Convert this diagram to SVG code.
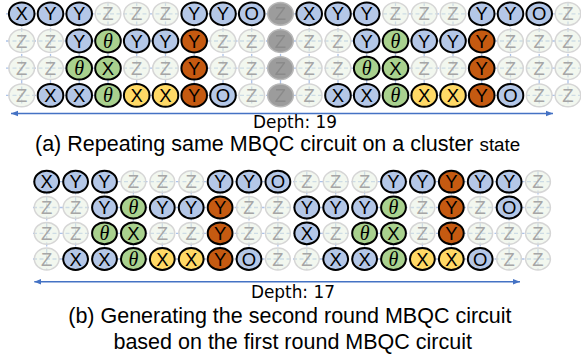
<svg xmlns="http://www.w3.org/2000/svg" width="581" height="362" viewBox="0 0 581 362">
<style>
  text{font-family:"Liberation Sans",Arial,sans-serif}
  .n text{font-size:18.5px;text-anchor:middle;fill:#000}
  .n .th{font-family:"Liberation Serif","Times New Roman",serif;font-style:italic;font-size:20px}
  .n ellipse{stroke:#000;stroke-width:2}
  .b ellipse{fill:#b4c7e7}
  .g ellipse{fill:#a9d18e}
  .y ellipse{fill:#ffd966}
  .r ellipse{fill:#c55a11}
  .z ellipse{fill:#e8f0e2;fill-opacity:.55;stroke:#d6d6d6;stroke-width:1.5}
  .n.z text{fill:#a6a6a6}
  .k{filter:url(#soft)}
  .k ellipse{fill:#9c9c9c;stroke:#b8b8b8;stroke-width:1.5}
  .n.k text{fill:#8a8a8a}
  .grid line{stroke:#adc3e8;stroke-width:1.3;stroke-dasharray:4 2.5}
  .depth line{stroke:#4472c4;stroke-width:1.6}
  .lbl{font-family:"DejaVu Sans",sans-serif;font-size:16.8px;text-anchor:middle;fill:#000}
  .cap{font-size:21.5px;fill:#000}
</style>
<defs>
  <filter id="soft" x="-30%" y="-30%" width="160%" height="160%"><feGaussianBlur stdDeviation="0.7"/></filter>
  <marker id="ah" viewBox="0 0 10 10" refX="10" refY="5" markerWidth="7" markerHeight="7" markerUnits="userSpaceOnUse" orient="auto-start-reverse"><path d="M0,1 L10,5 L0,9 z" fill="#4472c4"/></marker>
</defs>

<!-- dashed cluster-state edges -->
<g id="connectors" class="grid">
  <line x1="6" y1="13.8" x2="581" y2="13.8"/>
  <line x1="6" y1="41" x2="581" y2="41"/>
  <line x1="6" y1="68.2" x2="581" y2="68.2"/>
  <line x1="6" y1="95.4" x2="581" y2="95.4"/>
  <line x1="21.7" y1="2" x2="21.7" y2="107"/>
  <line x1="50.5" y1="2" x2="50.5" y2="107"/>
  <line x1="79.2" y1="2" x2="79.2" y2="107"/>
  <line x1="108" y1="2" x2="108" y2="107"/>
  <line x1="136.7" y1="2" x2="136.7" y2="107"/>
  <line x1="165.5" y1="2" x2="165.5" y2="107"/>
  <line x1="194.2" y1="2" x2="194.2" y2="107"/>
  <line x1="223" y1="2" x2="223" y2="107"/>
  <line x1="251.7" y1="2" x2="251.7" y2="107"/>
  <line x1="280.5" y1="2" x2="280.5" y2="107"/>
  <line x1="309.2" y1="2" x2="309.2" y2="107"/>
  <line x1="338" y1="2" x2="338" y2="107"/>
  <line x1="366.7" y1="2" x2="366.7" y2="107"/>
  <line x1="395.5" y1="2" x2="395.5" y2="107"/>
  <line x1="424.2" y1="2" x2="424.2" y2="107"/>
  <line x1="453" y1="2" x2="453" y2="107"/>
  <line x1="481.7" y1="2" x2="481.7" y2="107"/>
  <line x1="510.5" y1="2" x2="510.5" y2="107"/>
  <line x1="539.2" y1="2" x2="539.2" y2="107"/>
  <line x1="568" y1="2" x2="568" y2="107"/>

  <line x1="33" y1="181.7" x2="552" y2="181.7"/>
  <line x1="33" y1="207.5" x2="552" y2="207.5"/>
  <line x1="33" y1="233.3" x2="552" y2="233.3"/>
  <line x1="33" y1="259" x2="552" y2="259"/>
  <line x1="46.7" y1="171" x2="46.7" y2="270"/>
  <line x1="75.6" y1="171" x2="75.6" y2="270"/>
  <line x1="104.5" y1="171" x2="104.5" y2="270"/>
  <line x1="133.4" y1="171" x2="133.4" y2="270"/>
  <line x1="162.3" y1="171" x2="162.3" y2="270"/>
  <line x1="191.2" y1="171" x2="191.2" y2="270"/>
  <line x1="220.1" y1="171" x2="220.1" y2="270"/>
  <line x1="249" y1="171" x2="249" y2="270"/>
  <line x1="277.9" y1="171" x2="277.9" y2="270"/>
  <line x1="306.8" y1="171" x2="306.8" y2="270"/>
  <line x1="335.7" y1="171" x2="335.7" y2="270"/>
  <line x1="364.6" y1="171" x2="364.6" y2="270"/>
  <line x1="393.5" y1="171" x2="393.5" y2="270"/>
  <line x1="422.4" y1="171" x2="422.4" y2="270"/>
  <line x1="451.3" y1="171" x2="451.3" y2="270"/>
  <line x1="480.2" y1="171" x2="480.2" y2="270"/>
  <line x1="509.1" y1="171" x2="509.1" y2="270"/>
  <line x1="538" y1="171" x2="538" y2="270"/>
</g>

<!-- panel (a): repeated circuit, 20 columns -->
<g id="panel-a">
  <g id="a-1-01" class="n b" transform="translate(21.7,13.8)"><ellipse rx="12.8" ry="11.4"/><text y="6.6">X</text></g>
  <g id="a-1-02" class="n b" transform="translate(50.5,13.8)"><ellipse rx="12.8" ry="11.4"/><text y="6.6">Y</text></g>
  <g id="a-1-03" class="n b" transform="translate(79.2,13.8)"><ellipse rx="12.8" ry="11.4"/><text y="6.6">Y</text></g>
  <g id="a-1-04" class="n z" transform="translate(108,13.8)"><ellipse rx="12.8" ry="11.4"/><text y="6.6">Z</text></g>
  <g id="a-1-05" class="n z" transform="translate(136.7,13.8)"><ellipse rx="12.8" ry="11.4"/><text y="6.6">Z</text></g>
  <g id="a-1-06" class="n z" transform="translate(165.5,13.8)"><ellipse rx="12.8" ry="11.4"/><text y="6.6">Z</text></g>
  <g id="a-1-07" class="n b" transform="translate(194.2,13.8)"><ellipse rx="12.8" ry="11.4"/><text y="6.6">Y</text></g>
  <g id="a-1-08" class="n b" transform="translate(223,13.8)"><ellipse rx="12.8" ry="11.4"/><text y="6.6">Y</text></g>
  <g id="a-1-09" class="n b" transform="translate(251.7,13.8)"><ellipse rx="12.8" ry="11.4"/><text y="6.6">O</text></g>
  <g id="a-1-10" class="n k" transform="translate(280.5,13.8)"><ellipse rx="12.8" ry="11.4"/><text y="6.6">Z</text></g>
  <g id="a-1-11" class="n b" transform="translate(309.2,13.8)"><ellipse rx="12.8" ry="11.4"/><text y="6.6">X</text></g>
  <g id="a-1-12" class="n b" transform="translate(338,13.8)"><ellipse rx="12.8" ry="11.4"/><text y="6.6">Y</text></g>
  <g id="a-1-13" class="n b" transform="translate(366.7,13.8)"><ellipse rx="12.8" ry="11.4"/><text y="6.6">Y</text></g>
  <g id="a-1-14" class="n z" transform="translate(395.5,13.8)"><ellipse rx="12.8" ry="11.4"/><text y="6.6">Z</text></g>
  <g id="a-1-15" class="n z" transform="translate(424.2,13.8)"><ellipse rx="12.8" ry="11.4"/><text y="6.6">Z</text></g>
  <g id="a-1-16" class="n z" transform="translate(453,13.8)"><ellipse rx="12.8" ry="11.4"/><text y="6.6">Z</text></g>
  <g id="a-1-17" class="n b" transform="translate(481.7,13.8)"><ellipse rx="12.8" ry="11.4"/><text y="6.6">Y</text></g>
  <g id="a-1-18" class="n b" transform="translate(510.5,13.8)"><ellipse rx="12.8" ry="11.4"/><text y="6.6">Y</text></g>
  <g id="a-1-19" class="n b" transform="translate(539.2,13.8)"><ellipse rx="12.8" ry="11.4"/><text y="6.6">O</text></g>
  <g id="a-1-20" class="n z" transform="translate(568,13.8)"><ellipse rx="12.8" ry="11.4"/><text y="6.6">Z</text></g>

  <g id="a-2-01" class="n z" transform="translate(21.7,41)"><ellipse rx="12.8" ry="11.4"/><text y="6.6">Z</text></g>
  <g id="a-2-02" class="n z" transform="translate(50.5,41)"><ellipse rx="12.8" ry="11.4"/><text y="6.6">Z</text></g>
  <g id="a-2-03" class="n b" transform="translate(79.2,41)"><ellipse rx="12.8" ry="11.4"/><text y="6.6">Y</text></g>
  <g id="a-2-04" class="n g" transform="translate(108,41)"><ellipse rx="12.8" ry="11.4"/><text class="th" y="6.6">θ</text></g>
  <g id="a-2-05" class="n b" transform="translate(136.7,41)"><ellipse rx="12.8" ry="11.4"/><text y="6.6">Y</text></g>
  <g id="a-2-06" class="n b" transform="translate(165.5,41)"><ellipse rx="12.8" ry="11.4"/><text y="6.6">Y</text></g>
  <g id="a-2-07" class="n r" transform="translate(194.2,41)"><ellipse rx="12.8" ry="11.4"/><text y="6.6">Y</text></g>
  <g id="a-2-08" class="n z" transform="translate(223,41)"><ellipse rx="12.8" ry="11.4"/><text y="6.6">Z</text></g>
  <g id="a-2-09" class="n z" transform="translate(251.7,41)"><ellipse rx="12.8" ry="11.4"/><text y="6.6">Z</text></g>
  <g id="a-2-10" class="n k" transform="translate(280.5,41)"><ellipse rx="12.8" ry="11.4"/><text y="6.6">Z</text></g>
  <g id="a-2-11" class="n z" transform="translate(309.2,41)"><ellipse rx="12.8" ry="11.4"/><text y="6.6">Z</text></g>
  <g id="a-2-12" class="n z" transform="translate(338,41)"><ellipse rx="12.8" ry="11.4"/><text y="6.6">Z</text></g>
  <g id="a-2-13" class="n b" transform="translate(366.7,41)"><ellipse rx="12.8" ry="11.4"/><text y="6.6">Y</text></g>
  <g id="a-2-14" class="n g" transform="translate(395.5,41)"><ellipse rx="12.8" ry="11.4"/><text class="th" y="6.6">θ</text></g>
  <g id="a-2-15" class="n b" transform="translate(424.2,41)"><ellipse rx="12.8" ry="11.4"/><text y="6.6">Y</text></g>
  <g id="a-2-16" class="n b" transform="translate(453,41)"><ellipse rx="12.8" ry="11.4"/><text y="6.6">Y</text></g>
  <g id="a-2-17" class="n r" transform="translate(481.7,41)"><ellipse rx="12.8" ry="11.4"/><text y="6.6">Y</text></g>
  <g id="a-2-18" class="n z" transform="translate(510.5,41)"><ellipse rx="12.8" ry="11.4"/><text y="6.6">Z</text></g>
  <g id="a-2-19" class="n z" transform="translate(539.2,41)"><ellipse rx="12.8" ry="11.4"/><text y="6.6">Z</text></g>
  <g id="a-2-20" class="n z" transform="translate(568,41)"><ellipse rx="12.8" ry="11.4"/><text y="6.6">Z</text></g>

  <g id="a-3-01" class="n z" transform="translate(21.7,68.2)"><ellipse rx="12.8" ry="11.4"/><text y="6.6">Z</text></g>
  <g id="a-3-02" class="n z" transform="translate(50.5,68.2)"><ellipse rx="12.8" ry="11.4"/><text y="6.6">Z</text></g>
  <g id="a-3-03" class="n g" transform="translate(79.2,68.2)"><ellipse rx="12.8" ry="11.4"/><text class="th" y="6.6">θ</text></g>
  <g id="a-3-04" class="n g" transform="translate(108,68.2)"><ellipse rx="12.8" ry="11.4"/><text y="6.6">X</text></g>
  <g id="a-3-05" class="n z" transform="translate(136.7,68.2)"><ellipse rx="12.8" ry="11.4"/><text y="6.6">Z</text></g>
  <g id="a-3-06" class="n z" transform="translate(165.5,68.2)"><ellipse rx="12.8" ry="11.4"/><text y="6.6">Z</text></g>
  <g id="a-3-07" class="n r" transform="translate(194.2,68.2)"><ellipse rx="12.8" ry="11.4"/><text y="6.6">Y</text></g>
  <g id="a-3-08" class="n z" transform="translate(223,68.2)"><ellipse rx="12.8" ry="11.4"/><text y="6.6">Z</text></g>
  <g id="a-3-09" class="n z" transform="translate(251.7,68.2)"><ellipse rx="12.8" ry="11.4"/><text y="6.6">Z</text></g>
  <g id="a-3-10" class="n k" transform="translate(280.5,68.2)"><ellipse rx="12.8" ry="11.4"/><text y="6.6">Z</text></g>
  <g id="a-3-11" class="n z" transform="translate(309.2,68.2)"><ellipse rx="12.8" ry="11.4"/><text y="6.6">Z</text></g>
  <g id="a-3-12" class="n z" transform="translate(338,68.2)"><ellipse rx="12.8" ry="11.4"/><text y="6.6">Z</text></g>
  <g id="a-3-13" class="n g" transform="translate(366.7,68.2)"><ellipse rx="12.8" ry="11.4"/><text class="th" y="6.6">θ</text></g>
  <g id="a-3-14" class="n g" transform="translate(395.5,68.2)"><ellipse rx="12.8" ry="11.4"/><text y="6.6">X</text></g>
  <g id="a-3-15" class="n z" transform="translate(424.2,68.2)"><ellipse rx="12.8" ry="11.4"/><text y="6.6">Z</text></g>
  <g id="a-3-16" class="n z" transform="translate(453,68.2)"><ellipse rx="12.8" ry="11.4"/><text y="6.6">Z</text></g>
  <g id="a-3-17" class="n r" transform="translate(481.7,68.2)"><ellipse rx="12.8" ry="11.4"/><text y="6.6">Y</text></g>
  <g id="a-3-18" class="n z" transform="translate(510.5,68.2)"><ellipse rx="12.8" ry="11.4"/><text y="6.6">Z</text></g>
  <g id="a-3-19" class="n z" transform="translate(539.2,68.2)"><ellipse rx="12.8" ry="11.4"/><text y="6.6">Z</text></g>
  <g id="a-3-20" class="n z" transform="translate(568,68.2)"><ellipse rx="12.8" ry="11.4"/><text y="6.6">Z</text></g>

  <g id="a-4-01" class="n z" transform="translate(21.7,95.4)"><ellipse rx="12.8" ry="11.4"/><text y="6.6">Z</text></g>
  <g id="a-4-02" class="n b" transform="translate(50.5,95.4)"><ellipse rx="12.8" ry="11.4"/><text y="6.6">X</text></g>
  <g id="a-4-03" class="n b" transform="translate(79.2,95.4)"><ellipse rx="12.8" ry="11.4"/><text y="6.6">X</text></g>
  <g id="a-4-04" class="n g" transform="translate(108,95.4)"><ellipse rx="12.8" ry="11.4"/><text class="th" y="6.6">θ</text></g>
  <g id="a-4-05" class="n y" transform="translate(136.7,95.4)"><ellipse rx="12.8" ry="11.4"/><text y="6.6">X</text></g>
  <g id="a-4-06" class="n y" transform="translate(165.5,95.4)"><ellipse rx="12.8" ry="11.4"/><text y="6.6">X</text></g>
  <g id="a-4-07" class="n r" transform="translate(194.2,95.4)"><ellipse rx="12.8" ry="11.4"/><text y="6.6">Y</text></g>
  <g id="a-4-08" class="n b" transform="translate(223,95.4)"><ellipse rx="12.8" ry="11.4"/><text y="6.6">O</text></g>
  <g id="a-4-09" class="n z" transform="translate(251.7,95.4)"><ellipse rx="12.8" ry="11.4"/><text y="6.6">Z</text></g>
  <g id="a-4-10" class="n k" transform="translate(280.5,95.4)"><ellipse rx="12.8" ry="11.4"/><text y="6.6">Z</text></g>
  <g id="a-4-11" class="n z" transform="translate(309.2,95.4)"><ellipse rx="12.8" ry="11.4"/><text y="6.6">Z</text></g>
  <g id="a-4-12" class="n b" transform="translate(338,95.4)"><ellipse rx="12.8" ry="11.4"/><text y="6.6">X</text></g>
  <g id="a-4-13" class="n b" transform="translate(366.7,95.4)"><ellipse rx="12.8" ry="11.4"/><text y="6.6">X</text></g>
  <g id="a-4-14" class="n g" transform="translate(395.5,95.4)"><ellipse rx="12.8" ry="11.4"/><text class="th" y="6.6">θ</text></g>
  <g id="a-4-15" class="n y" transform="translate(424.2,95.4)"><ellipse rx="12.8" ry="11.4"/><text y="6.6">X</text></g>
  <g id="a-4-16" class="n y" transform="translate(453,95.4)"><ellipse rx="12.8" ry="11.4"/><text y="6.6">X</text></g>
  <g id="a-4-17" class="n r" transform="translate(481.7,95.4)"><ellipse rx="12.8" ry="11.4"/><text y="6.6">Y</text></g>
  <g id="a-4-18" class="n b" transform="translate(510.5,95.4)"><ellipse rx="12.8" ry="11.4"/><text y="6.6">O</text></g>
  <g id="a-4-19" class="n z" transform="translate(539.2,95.4)"><ellipse rx="12.8" ry="11.4"/><text y="6.6">Z</text></g>
  <g id="a-4-20" class="n z" transform="translate(568,95.4)"><ellipse rx="12.8" ry="11.4"/><text y="6.6">Z</text></g>
</g>

<!-- panel (b): second round generated from the first, 18 columns -->
<g id="panel-b">
  <g id="b-1-01" class="n b" transform="translate(46.7,181.7)"><ellipse rx="12.4" ry="10.9"/><text y="6.6">X</text></g>
  <g id="b-1-02" class="n b" transform="translate(75.6,181.7)"><ellipse rx="12.4" ry="10.9"/><text y="6.6">Y</text></g>
  <g id="b-1-03" class="n b" transform="translate(104.5,181.7)"><ellipse rx="12.4" ry="10.9"/><text y="6.6">Y</text></g>
  <g id="b-1-04" class="n z" transform="translate(133.4,181.7)"><ellipse rx="12.4" ry="10.9"/><text y="6.6">Z</text></g>
  <g id="b-1-05" class="n z" transform="translate(162.3,181.7)"><ellipse rx="12.4" ry="10.9"/><text y="6.6">Z</text></g>
  <g id="b-1-06" class="n z" transform="translate(191.2,181.7)"><ellipse rx="12.4" ry="10.9"/><text y="6.6">Z</text></g>
  <g id="b-1-07" class="n b" transform="translate(220.1,181.7)"><ellipse rx="12.4" ry="10.9"/><text y="6.6">Y</text></g>
  <g id="b-1-08" class="n b" transform="translate(249,181.7)"><ellipse rx="12.4" ry="10.9"/><text y="6.6">Y</text></g>
  <g id="b-1-09" class="n b" transform="translate(277.9,181.7)"><ellipse rx="12.4" ry="10.9"/><text y="6.6">O</text></g>
  <g id="b-1-10" class="n z" transform="translate(306.8,181.7)"><ellipse rx="12.4" ry="10.9"/><text y="6.6">Z</text></g>
  <g id="b-1-11" class="n z" transform="translate(335.7,181.7)"><ellipse rx="12.4" ry="10.9"/><text y="6.6">Z</text></g>
  <g id="b-1-12" class="n z" transform="translate(364.6,181.7)"><ellipse rx="12.4" ry="10.9"/><text y="6.6">Z</text></g>
  <g id="b-1-13" class="n b" transform="translate(393.5,181.7)"><ellipse rx="12.4" ry="10.9"/><text y="6.6">Y</text></g>
  <g id="b-1-14" class="n b" transform="translate(422.4,181.7)"><ellipse rx="12.4" ry="10.9"/><text y="6.6">Y</text></g>
  <g id="b-1-15" class="n r" transform="translate(451.3,181.7)"><ellipse rx="12.4" ry="10.9"/><text y="6.6">Y</text></g>
  <g id="b-1-16" class="n b" transform="translate(480.2,181.7)"><ellipse rx="12.4" ry="10.9"/><text y="6.6">Y</text></g>
  <g id="b-1-17" class="n b" transform="translate(509.1,181.7)"><ellipse rx="12.4" ry="10.9"/><text y="6.6">Y</text></g>
  <g id="b-1-18" class="n z" transform="translate(538,181.7)"><ellipse rx="12.4" ry="10.9"/><text y="6.6">Z</text></g>

  <g id="b-2-01" class="n z" transform="translate(46.7,207.5)"><ellipse rx="12.4" ry="10.9"/><text y="6.6">Z</text></g>
  <g id="b-2-02" class="n z" transform="translate(75.6,207.5)"><ellipse rx="12.4" ry="10.9"/><text y="6.6">Z</text></g>
  <g id="b-2-03" class="n b" transform="translate(104.5,207.5)"><ellipse rx="12.4" ry="10.9"/><text y="6.6">Y</text></g>
  <g id="b-2-04" class="n g" transform="translate(133.4,207.5)"><ellipse rx="12.4" ry="10.9"/><text class="th" y="6.6">θ</text></g>
  <g id="b-2-05" class="n b" transform="translate(162.3,207.5)"><ellipse rx="12.4" ry="10.9"/><text y="6.6">Y</text></g>
  <g id="b-2-06" class="n b" transform="translate(191.2,207.5)"><ellipse rx="12.4" ry="10.9"/><text y="6.6">Y</text></g>
  <g id="b-2-07" class="n r" transform="translate(220.1,207.5)"><ellipse rx="12.4" ry="10.9"/><text y="6.6">Y</text></g>
  <g id="b-2-08" class="n z" transform="translate(249,207.5)"><ellipse rx="12.4" ry="10.9"/><text y="6.6">Z</text></g>
  <g id="b-2-09" class="n z" transform="translate(277.9,207.5)"><ellipse rx="12.4" ry="10.9"/><text y="6.6">Z</text></g>
  <g id="b-2-10" class="n b" transform="translate(306.8,207.5)"><ellipse rx="12.4" ry="10.9"/><text y="6.6">Y</text></g>
  <g id="b-2-11" class="n b" transform="translate(335.7,207.5)"><ellipse rx="12.4" ry="10.9"/><text y="6.6">Y</text></g>
  <g id="b-2-12" class="n b" transform="translate(364.6,207.5)"><ellipse rx="12.4" ry="10.9"/><text y="6.6">Y</text></g>
  <g id="b-2-13" class="n g" transform="translate(393.5,207.5)"><ellipse rx="12.4" ry="10.9"/><text class="th" y="6.6">θ</text></g>
  <g id="b-2-14" class="n z" transform="translate(422.4,207.5)"><ellipse rx="12.4" ry="10.9"/><text y="6.6">Z</text></g>
  <g id="b-2-15" class="n r" transform="translate(451.3,207.5)"><ellipse rx="12.4" ry="10.9"/><text y="6.6">Y</text></g>
  <g id="b-2-16" class="n z" transform="translate(480.2,207.5)"><ellipse rx="12.4" ry="10.9"/><text y="6.6">Z</text></g>
  <g id="b-2-17" class="n b" transform="translate(509.1,207.5)"><ellipse rx="12.4" ry="10.9"/><text y="6.6">O</text></g>
  <g id="b-2-18" class="n z" transform="translate(538,207.5)"><ellipse rx="12.4" ry="10.9"/><text y="6.6">Z</text></g>

  <g id="b-3-01" class="n z" transform="translate(46.7,233.3)"><ellipse rx="12.4" ry="10.9"/><text y="6.6">Z</text></g>
  <g id="b-3-02" class="n z" transform="translate(75.6,233.3)"><ellipse rx="12.4" ry="10.9"/><text y="6.6">Z</text></g>
  <g id="b-3-03" class="n g" transform="translate(104.5,233.3)"><ellipse rx="12.4" ry="10.9"/><text class="th" y="6.6">θ</text></g>
  <g id="b-3-04" class="n g" transform="translate(133.4,233.3)"><ellipse rx="12.4" ry="10.9"/><text y="6.6">X</text></g>
  <g id="b-3-05" class="n z" transform="translate(162.3,233.3)"><ellipse rx="12.4" ry="10.9"/><text y="6.6">Z</text></g>
  <g id="b-3-06" class="n z" transform="translate(191.2,233.3)"><ellipse rx="12.4" ry="10.9"/><text y="6.6">Z</text></g>
  <g id="b-3-07" class="n r" transform="translate(220.1,233.3)"><ellipse rx="12.4" ry="10.9"/><text y="6.6">Y</text></g>
  <g id="b-3-08" class="n z" transform="translate(249,233.3)"><ellipse rx="12.4" ry="10.9"/><text y="6.6">Z</text></g>
  <g id="b-3-09" class="n z" transform="translate(277.9,233.3)"><ellipse rx="12.4" ry="10.9"/><text y="6.6">Z</text></g>
  <g id="b-3-10" class="n b" transform="translate(306.8,233.3)"><ellipse rx="12.4" ry="10.9"/><text y="6.6">X</text></g>
  <g id="b-3-11" class="n z" transform="translate(335.7,233.3)"><ellipse rx="12.4" ry="10.9"/><text y="6.6">Z</text></g>
  <g id="b-3-12" class="n g" transform="translate(364.6,233.3)"><ellipse rx="12.4" ry="10.9"/><text class="th" y="6.6">θ</text></g>
  <g id="b-3-13" class="n g" transform="translate(393.5,233.3)"><ellipse rx="12.4" ry="10.9"/><text y="6.6">X</text></g>
  <g id="b-3-14" class="n z" transform="translate(422.4,233.3)"><ellipse rx="12.4" ry="10.9"/><text y="6.6">Z</text></g>
  <g id="b-3-15" class="n r" transform="translate(451.3,233.3)"><ellipse rx="12.4" ry="10.9"/><text y="6.6">Y</text></g>
  <g id="b-3-16" class="n z" transform="translate(480.2,233.3)"><ellipse rx="12.4" ry="10.9"/><text y="6.6">Z</text></g>
  <g id="b-3-17" class="n z" transform="translate(509.1,233.3)"><ellipse rx="12.4" ry="10.9"/><text y="6.6">Z</text></g>
  <g id="b-3-18" class="n z" transform="translate(538,233.3)"><ellipse rx="12.4" ry="10.9"/><text y="6.6">Z</text></g>

  <g id="b-4-01" class="n z" transform="translate(46.7,259)"><ellipse rx="12.4" ry="10.9"/><text y="6.6">Z</text></g>
  <g id="b-4-02" class="n b" transform="translate(75.6,259)"><ellipse rx="12.4" ry="10.9"/><text y="6.6">X</text></g>
  <g id="b-4-03" class="n b" transform="translate(104.5,259)"><ellipse rx="12.4" ry="10.9"/><text y="6.6">X</text></g>
  <g id="b-4-04" class="n g" transform="translate(133.4,259)"><ellipse rx="12.4" ry="10.9"/><text class="th" y="6.6">θ</text></g>
  <g id="b-4-05" class="n y" transform="translate(162.3,259)"><ellipse rx="12.4" ry="10.9"/><text y="6.6">X</text></g>
  <g id="b-4-06" class="n y" transform="translate(191.2,259)"><ellipse rx="12.4" ry="10.9"/><text y="6.6">X</text></g>
  <g id="b-4-07" class="n r" transform="translate(220.1,259)"><ellipse rx="12.4" ry="10.9"/><text y="6.6">Y</text></g>
  <g id="b-4-08" class="n b" transform="translate(249,259)"><ellipse rx="12.4" ry="10.9"/><text y="6.6">O</text></g>
  <g id="b-4-09" class="n z" transform="translate(277.9,259)"><ellipse rx="12.4" ry="10.9"/><text y="6.6">Z</text></g>
  <g id="b-4-10" class="n z" transform="translate(306.8,259)"><ellipse rx="12.4" ry="10.9"/><text y="6.6">Z</text></g>
  <g id="b-4-11" class="n b" transform="translate(335.7,259)"><ellipse rx="12.4" ry="10.9"/><text y="6.6">X</text></g>
  <g id="b-4-12" class="n b" transform="translate(364.6,259)"><ellipse rx="12.4" ry="10.9"/><text y="6.6">X</text></g>
  <g id="b-4-13" class="n g" transform="translate(393.5,259)"><ellipse rx="12.4" ry="10.9"/><text class="th" y="6.6">θ</text></g>
  <g id="b-4-14" class="n y" transform="translate(422.4,259)"><ellipse rx="12.4" ry="10.9"/><text y="6.6">X</text></g>
  <g id="b-4-15" class="n y" transform="translate(451.3,259)"><ellipse rx="12.4" ry="10.9"/><text y="6.6">X</text></g>
  <g id="b-4-16" class="n b" transform="translate(480.2,259)"><ellipse rx="12.4" ry="10.9"/><text y="6.6">O</text></g>
  <g id="b-4-17" class="n z" transform="translate(509.1,259)"><ellipse rx="12.4" ry="10.9"/><text y="6.6">Z</text></g>
  <g id="b-4-18" class="n z" transform="translate(538,259)"><ellipse rx="12.4" ry="10.9"/><text y="6.6">Z</text></g>
</g>

<!-- depth arrows and captions -->
<g id="depth-a" class="depth">
  <line x1="11" y1="113.5" x2="553" y2="113.5" marker-start="url(#ah)" marker-end="url(#ah)"/>
  <text class="lbl" x="295" y="128.3" textLength="84" lengthAdjust="spacingAndGlyphs">Depth: 19</text>
</g>
<text id="caption-a" class="cap" x="35" y="150.5">(a) Repeating same MBQC circuit on a cluster <tspan font-size="18.8">state</tspan></text>

<g id="depth-b" class="depth">
  <line x1="34.3" y1="281.7" x2="520" y2="281.7" marker-start="url(#ah)" marker-end="url(#ah)"/>
  <text class="lbl" x="292.9" y="298.3" textLength="84" lengthAdjust="spacingAndGlyphs">Depth: 17</text>
</g>
<text id="caption-b" class="cap" text-anchor="middle">
  <tspan x="292.9" y="323.3">(b) Generating the second round MBQC circuit</tspan>
  <tspan x="292.7" y="349.3">based on the first round MBQC circuit</tspan>
</text>
</svg>
